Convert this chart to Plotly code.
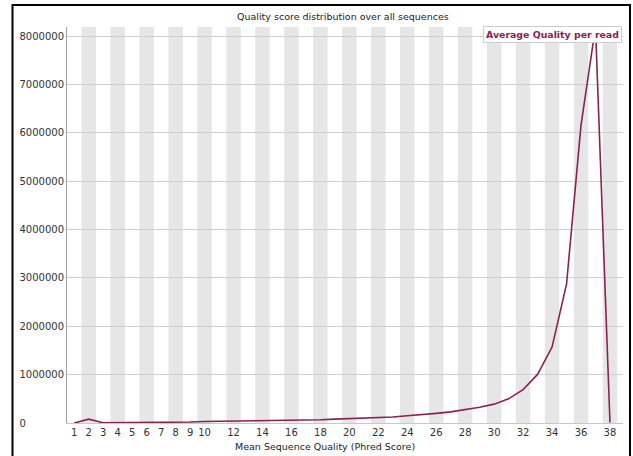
import plotly.graph_objects as go

# Per-read mean quality distribution
quality = list(range(1, 39))
read_counts = [
    0, 80000, 5000, 6000, 7000, 9000, 14000, 17000, 20000, 30000,
    33000, 36000, 42000, 45000, 50000, 58000, 62000, 68000, 80000, 92000,
    98000, 110000, 125000, 150000, 170000, 200000, 230000, 270000, 325000, 390000,
    500000, 690000, 1005000, 1570000, 2870000, 6160000, 8190000, 10000,
]
tick_vals = list(range(1, 11)) + list(range(12, 39, 2))
tick_text = [str(v) for v in tick_vals]
y_ticks = list(range(0, 8000001, 1000000))

series_name = "Average Quality per read"
line_color = "rgb(136,34,85)"
font_family = "DejaVu Sans"

W, H = 633, 456
L, R, T, B = 67, 10, 27, 33
pw, ph = W - L - R, H - T - B


def px_x(px):
    return (px - L) / pw


def px_y(py):
    return (H - B - py) / ph


# y labels are left-aligned: pad shorter ones with figure spaces (digit width)
label_width = max(len(str(v)) for v in y_ticks)
y_text = [str(v) + "\u2007" * (label_width - len(str(v))) for v in y_ticks]

fig = go.Figure()
fig.add_trace(go.Scatter(
    x=quality, y=read_counts, mode="lines", name=series_name,
    line=dict(color=line_color, width=1.6), showlegend=False,
))

shapes = []
# alternating column shading on even quality scores
for q in quality:
    if q % 2 == 0:
        shapes.append(dict(type="rect", xref="x", yref="paper",
                           x0=q - 0.5, x1=q + 0.5, y0=0, y1=1,
                           fillcolor="#e6e6e6", line=dict(width=0), layer="below"))
# outer frame
shapes.append(dict(type="rect", xref="paper", yref="paper",
                   x0=px_x(12.5), x1=px_x(630), y0=px_y(470), y1=px_y(5),
                   line=dict(color="black", width=2), fillcolor="rgba(0,0,0,0)"))

fig.update_layout(
    width=W, height=H,
    margin=dict(l=L, r=R, t=T, b=B),
    paper_bgcolor="white", plot_bgcolor="white",
    font=dict(family=font_family, size=10, color="#333333"),
    shapes=shapes,
    annotations=[
        dict(text="Quality score distribution over all sequences",
             xref="paper", yref="paper", x=px_x(343), y=px_y(16),
             xanchor="center", yanchor="middle", showarrow=False,
             font=dict(size=9.5, color="#222222")),
        dict(text="Mean Sequence Quality (Phred Score)",
             xref="paper", yref="paper", x=px_x(325), y=px_y(446),
             xanchor="center", yanchor="middle", showarrow=False,
             font=dict(size=9.5, color="#222222")),
        dict(text="<b>" + series_name + "</b>",
             xref="paper", yref="paper", x=px_x(622), y=px_y(26),
             xanchor="right", yanchor="top", showarrow=False,
             font=dict(size=9.4, color=line_color),
             bgcolor="white", bordercolor="#cccccc", borderwidth=1, borderpad=2),
    ],
    xaxis=dict(
        range=[0.5, 38.9], tickmode="array", tickvals=tick_vals, ticktext=tick_text,
        showgrid=False, zeroline=False, showline=True, linecolor="#c8c8c8",
        ticks="", tickfont=dict(size=10, color="#333333"),
    ),
    yaxis=dict(
        range=[0, 8190000], tickmode="array", tickvals=y_ticks, ticktext=y_text,
        showgrid=True, gridcolor="#cfcfcf", gridwidth=1,
        zeroline=False, showline=True, linecolor="#a0a0a0",
        ticks="", tickfont=dict(size=10, color="#333333"),
    ),
)

fig.write_html("out.html")
